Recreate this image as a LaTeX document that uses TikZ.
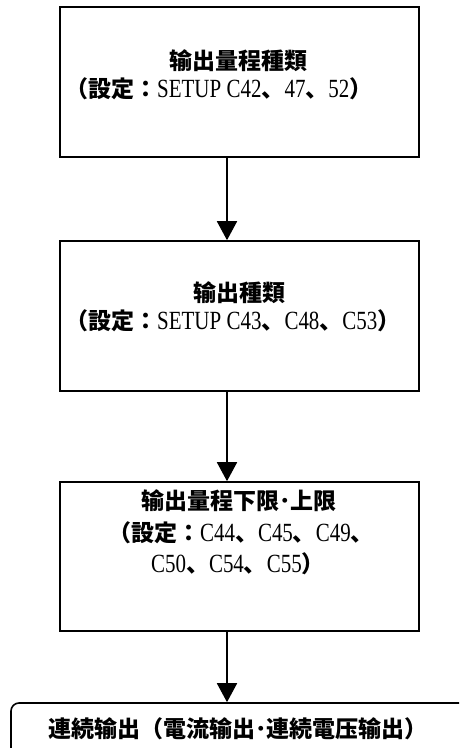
\documentclass[tikz,border=0pt]{standalone}
\usepackage{fontspec}
\setmainfont{Noto Sans CJK JP}
\newfontfamily\latf[FakeStretch=0.8,Scale=1.14]{Liberation Serif}
\usetikzlibrary{arrows.meta}
\newcommand{\La}[1]{{\latf\mdseries #1}}
\begin{document}
\begin{tikzpicture}[x=1pt,y=-1pt,
  box/.style={draw,line width=1.6pt,inner sep=0pt},
  txt/.style={inner sep=0pt,font=\fontsize{23}{28}\selectfont\bfseries},
  arr/.style={line width=1.8pt,-{Triangle[width=20pt,length=19pt]}}]
\useasboundingbox (0,0) rectangle (459,748);
\clip (0,0) rectangle (459,748);
\fill[white] (0,0) rectangle (459,748);
\node[box,minimum width=359pt,minimum height=150pt] (b1) at (239.5,82) {};
\node[box,minimum width=359pt,minimum height=150pt] (b2) at (239.5,316) {};
\node[box,minimum width=359pt,minimum height=149pt] (b3) at (239.5,556.5) {};
\node[box,rounded corners=8pt,minimum width=469pt,minimum height=87pt] (b4) at (245.5,746.5) {};
\coordinate (ax) at (227,0);
\draw[arr] (b1.south -| ax) -- (b2.north -| ax);
\draw[arr] (b2.south -| ax) -- (b3.north -| ax);
\draw[arr] (b3.south -| ax) -- (b4.north -| ax);
\node[txt,anchor=base] (t1a) at (238,69) {输出量程種類};
\node[txt,anchor=base west] (t1b) at (65,97) {（設定：\La{SETUP C42}、\La{47}、\La{52}）};
\node[txt,anchor=base] (t2a) at (239,301) {输出種類};
\node[txt,anchor=base west] (t2b) at (65,329) {（設定：\La{SETUP C43}、\La{C48}、\La{C53}）};
\node[txt,anchor=base] (t3a) at (239,509) {输出量程下限･上限};
\node[txt,anchor=base] (t3b) at (241,541) {（設定：\La{C44}、\La{C45}、\La{C49}、};
\node[txt,anchor=base] (t3c) at (238,572) {\La{C50}、\La{C54}、\La{C55}）};
\node[txt,anchor=base] (t4) at (238,737) {連続输出（電流输出･連続電压输出）};
\end{tikzpicture}
\end{document}
